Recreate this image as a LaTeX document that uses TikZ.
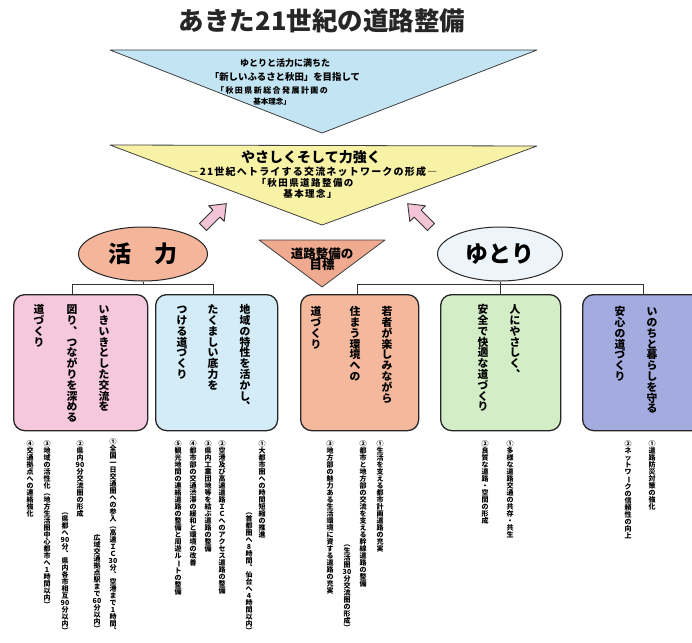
\documentclass[tikz,border=0pt]{standalone}
\usepackage{fontspec}
\usepackage{graphicx}
\newfontfamily\cjk{Noto Sans CJK JP}
\usetikzlibrary{shapes.geometric}
\definecolor{blueTri}{HTML}{C3E4F3}
\definecolor{yellowTri}{HTML}{F8F2A6}
\definecolor{arrowPink}{HTML}{F3C3D6}
\definecolor{salmonC}{HTML}{F4B59B}
\definecolor{yutoriC}{HTML}{EDF5FA}
\definecolor{goalC}{HTML}{EFAA90}
\definecolor{boxA}{HTML}{F6C8DD}
\definecolor{boxB}{HTML}{D3ECF7}
\definecolor{boxC}{HTML}{F4B89C}
\definecolor{boxD}{HTML}{D3EDC7}
\definecolor{boxE}{HTML}{A4ABDF}
\ExplSyntaxOn
\cs_new:Npn \vtx_char:n #1
  {
    \str_case:nnF {#1}
      {
        {、}{︑}
        {（}{︵}
        {）}{︶}
        {ー}{\rotatebox[origin=c]{-90}{ー}}
      }
      {#1}
  }
\NewDocumentCommand \vtext { m }
  {
    \vbox
      {
        \offinterlineskip
        \tl_map_inline:nn {#1}
          {
            \hbox_to_wd:nn {1em}
              { \hss \rule[-0.12em]{0pt}{1em} \vtx_char:n {##1} \hss }
          }
      }
  }
\ExplSyntaxOff
\newcommand\jf[1]{\cjk\bfseries\fontsize{#1}{#1}\selectfont}
\begin{document}
\begin{tikzpicture}[x=1pt,y=-1pt,
  tri/.style={draw=black!75, line width=0.8pt, line join=round},
  ell/.style={ellipse, draw=black!85, line width=1pt, inner sep=0pt},
  boxN/.style={draw=black!85, line width=1.3pt, rounded corners=11pt, anchor=north west, inner sep=0pt, minimum height=136pt},
  conn/.style={draw=black!80, line width=0.7pt},
  vbig/.style={anchor=north, inner sep=0pt, font=\jf{10.8}},
  vsmall/.style={anchor=north, inner sep=0pt, font=\jf{7}},
  blockarrow/.pic={\filldraw[fill=arrowPink, draw=black!80, line width=0.9pt, line join=round]
    (0,-5) -- (19,-5) -- (19,-11) -- (33,0) -- (19,11) -- (19,5) -- (0,5) -- cycle;}
]
\useasboundingbox (0,0) rectangle (692,642);
\clip (0,0) rectangle (692,642);
\fill[white] (0,0) rectangle (692,642);

% title
\node[font=\jf{25.5}, text=black!85, inner sep=0pt] (title) at (322,21) {あきた21世紀の道路整備};

% blue triangle
\coordinate (b1) at (110,50); \coordinate (b2) at (537,50); \coordinate (b3) at (322,133);
\filldraw[tri, fill=blueTri] (b1) -- (b2) -- (b3) -- cycle;
\node[font=\jf{9}, inner sep=0pt] (bl1) at (285,63) {ゆとりと活力に満ちた};
\node[font=\jf{9.4}, inner sep=0pt] (bl2) at (285,77) {「新しいふるさと秋田」を目指して};
\node[font=\jf{8}\addfontfeature{LetterSpace=18}, inner sep=0pt] (bl3) at (272,90) {「秋田県新総合発展計画の};
\node[font=\jf{7.5}, inner sep=0pt] (bl4) at (272,102) {基本理念」};

% yellow triangle
\coordinate (y1) at (110,145); \coordinate (y2) at (537,146); \coordinate (y3) at (322,225);
\filldraw[tri, fill=yellowTri] (y1) -- (y2) -- (y3) -- cycle;
\node[font=\jf{14}, inner sep=0pt] (yl1) at (311,157) {やさしくそして力強く};
\node[font=\jf{10}\addfontfeature{LetterSpace=12}, inner sep=0pt] (yl2) at (313,172) {―21世紀へトライする交流ネットワークの形成―};
\node[font=\jf{9.5}\addfontfeature{LetterSpace=15}, inner sep=0pt] (yl3) at (305,183) {「秋田県道路整備の};
\node[font=\jf{9.5}\addfontfeature{LetterSpace=15}, inner sep=0pt] (yl4) at (310,194) {基本理念」};

% pink arrows
\pic[rotate=45] (arL) at (203,227) {blockarrow};
\pic[rotate=135] (arR) at (431,227) {blockarrow};

% ellipses
\node[ell, fill=salmonC, minimum width=129pt, minimum height=54pt, font=\jf{23}] (katsu) at (143,254) {活　力};
\node[ell, fill=yutoriC, minimum width=125pt, minimum height=54pt, font=\jf{23}] (yutori) at (500,254) {ゆとり};

% goal triangle
\coordinate (s1) at (259,240); \coordinate (s2) at (385,240); \coordinate (s3) at (322,287);
\filldraw[tri, fill=goalC] (s1) -- (s2) -- (s3) -- cycle;
\node[font=\jf{12.5}, align=center, inner sep=0pt] (goal) at (322,259) {道路整備の\\[-1pt]目標};

% boxes
\node[boxN, fill=boxA, minimum width=134pt] (box1) at (13,294) {};
\node[boxN, fill=boxB, minimum width=122pt] (box2) at (155,294) {};
\node[boxN, fill=boxC, minimum width=118pt] (box3) at (300,294) {};
\node[boxN, fill=boxD, minimum width=120pt] (box4) at (440,294) {};
\node[boxN, fill=boxE, minimum width=122pt] (box5) at (582,294) {};

% connectors
\coordinate (kL) at (143,284); \coordinate (kA) at (72,284); \coordinate (kB) at (213,284);
\coordinate (yL) at (500,284); \coordinate (yA) at (357,284); \coordinate (yC) at (643,284);
\draw[conn] (katsu.south) -- (kL);
\draw[conn] (kA |- box1.north) -- (kA) -- (kB) -- (kB |- box2.north);
\draw[conn] (yutori.south) -- (yL);
\draw[conn] (yA |- box3.north) -- (yA) -- (yC) -- (yC |- box5.north);
\draw[conn] (yL) -- (yL |- box4.north);

% box texts (vertical)
\node[vbig] (t1a) at (104,304) {\vtext{いきいきとした交流を}};
\node[vbig] (t1b) at (72,304) {\vtext{図り、つながりを深める}};
\node[vbig] (t1c) at (39,304) {\vtext{道づくり}};
\node[vbig] (t2a) at (245,304) {\vtext{地域の特性を活かし、}};
\node[vbig] (t2b) at (213,304) {\vtext{たくましい底力を}};
\node[vbig] (t2c) at (182,304) {\vtext{つける道づくり}};
\node[vbig] (t3a) at (387,306) {\vtext{若者が楽しみながら}};
\node[vbig] (t3b) at (355,306) {\vtext{住まう環境への}};
\node[vbig] (t3c) at (316,306) {\vtext{道づくり}};
\node[vbig] (t4a) at (515,304) {\vtext{人にやさしく、}};
\node[vbig] (t4b) at (483,304) {\vtext{安全で快適な道づくり}};
\node[vbig] (t5a) at (652,306) {\vtext{いのちと暮らしを守る}};
\node[vbig] (t5b) at (620,306) {\vtext{安心の道づくり}};

% measures (vertical)
\node[vsmall] (g1a) at (113,438) {\vtext{①全国一日交通圏への参入（高速ＩＣ{30}分、空港まで{1}時間、}};
\node[vsmall] (g1b) at (97,534) {\vtext{広域交通拠点駅まで{60}分以内）}};
\node[vsmall] (g1c) at (80,440) {\vtext{②県内{90}分交流圏の形成}};
\node[vsmall] (g1d) at (65,508) {\vtext{（県都へ{90}分、県内各市相互{90}分以内）}};
\node[vsmall] (g1e) at (47,440) {\vtext{③地域の活性化（地方生活圏中心都市へ{1}時間以内）}};
\node[vsmall] (g1f) at (30,440) {\vtext{④交通拠点への連絡強化}};

\node[vsmall] (g2a) at (262,440) {\vtext{①大都市圏への時間短縮の推進}};
\node[vsmall] (g2b) at (249,508) {\vtext{（首都圏へ{8}時間、仙台へ{4}時間以内）}};
\node[vsmall] (g2c) at (222,440) {\vtext{②空港及び高速道路ＩＣへのアクセス道路の整備}};
\node[vsmall] (g2d) at (208,440) {\vtext{③県内工業団地等を結ぶ道路の整備}};
\node[vsmall] (g2e) at (193,440) {\vtext{④都市部の交通渋滞の緩和と環境の改善}};
\node[vsmall] (g2f) at (178,440) {\vtext{⑤観光地間の連絡道路の整備と周遊ルートの整備}};

\node[vsmall] (g3a) at (380,440) {\vtext{①生活を支える都市計画道路の充実}};
\node[vsmall] (g3b) at (363,440) {\vtext{②都市と地方部の交流を支える幹線道路の整備}};
\node[vsmall] (g3c) at (347,540) {\vtext{（生活圏{30}分交流圏の形成）}};
\node[vsmall] (g3d) at (330,440) {\vtext{③地方部の魅力ある生活環境に資する道路の充実}};

\node[vsmall] (g4a) at (510,440) {\vtext{①多様な道路交通の共存・共生}};
\node[vsmall] (g4b) at (485,440) {\vtext{②良質な道路・空間の形成}};

\node[vsmall] (g5a) at (652,440) {\vtext{①道路防災対策の強化}};
\node[vsmall] (g5b) at (628,440) {\vtext{②ネットワークの信頼性の向上}};
\end{tikzpicture}
\end{document}
